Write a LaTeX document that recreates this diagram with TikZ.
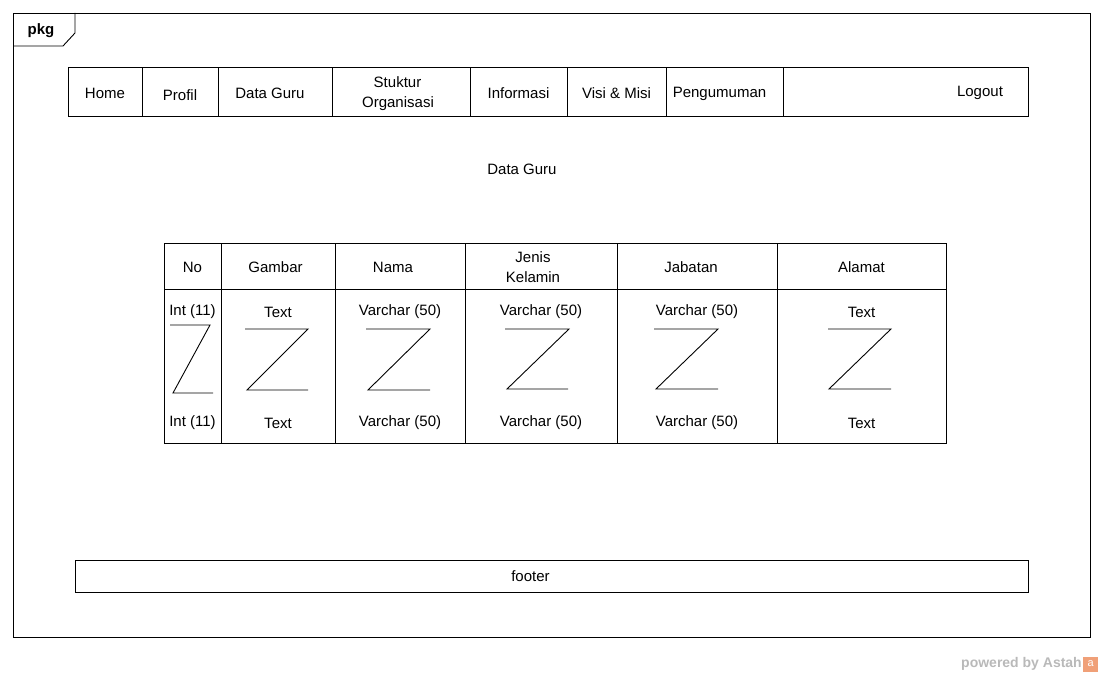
\documentclass[tikz,border=0pt]{standalone}
\usepackage{fontspec}
\setmainfont{Liberation Sans}
\usepackage{xcolor}
\usetikzlibrary{positioning}
\definecolor{astahgray}{RGB}{185,185,185}
\definecolor{astahorange}{RGB}{240,160,120}

\begin{document}
\begin{tikzpicture}[
  x=1pt, y=-1pt,
  font=\fontsize{15}{20}\selectfont,
  cell/.style={rectangle, draw, line width=0.9pt, inner sep=0pt, outer sep=0pt,
    align=center, anchor=north west},
  navcell/.style={cell, minimum height=49, text height=15pt},
  headcell/.style={cell, minimum height=46, text height=14pt},
  bodycell/.style={cell, minimum height=154},
  zline/.style={line width=0.9pt}
]
  \useasboundingbox (0,0) rectangle (1104,677);

  % package frame
  \node[cell, minimum width=1077, minimum height=624] (frame) at (13,13) {};
  \draw[line width=0.9pt] (13,46) -- (63,46) -- (75,33) -- (75,13);
  \node[font=\bfseries\fontsize{15}{15}\selectfont] (pkg) at (41,31) {pkg};

  % menu bar
  \node[navcell, minimum width=74] (home) at (68,67) {Home};
  \node[navcell, minimum width=76, text height=19pt, right=0pt of home] (profil) {Profil};
  \node[navcell, minimum width=114, right=0pt of profil] (dataguru) {Data Guru\hspace*{10pt}};
  \node[navcell, minimum width=138, text height=36pt, right=0pt of dataguru] (struktur) {Stuktur\hspace*{7pt}\\Organisasi\hspace*{6pt}};
  \node[navcell, minimum width=97, right=0pt of struktur] (info) {Informasi};
  \node[navcell, minimum width=99, right=0pt of info] (visi) {Visi \& Misi};
  \node[navcell, minimum width=117, right=0pt of visi] (umum) {Pengumuman\hspace*{10pt}};
  \node[navcell, minimum width=245, right=0pt of umum] (navend) {};
  \node (logout) at ([xshift=-48,yshift=-1]navend.east) {Logout};

  \node (title) at (522,169) {Data Guru};

  % table header
  \node[headcell, minimum width=57] (hno) at (164,243) {No};
  \node[headcell, minimum width=114, right=0pt of hno] (hgam) {Gambar\hspace*{5pt}};
  \node[headcell, minimum width=130, right=0pt of hgam] (hnama) {Nama\hspace*{14pt}};
  \node[headcell, minimum width=152, text height=34pt, right=0pt of hnama] (hjk) {Jenis\hspace*{16pt}\\Kelamin\hspace*{16pt}};
  \node[headcell, minimum width=160, right=0pt of hjk] (hjab) {Jabatan\hspace*{12pt}};
  \node[headcell, minimum width=169, right=0pt of hjab] (halamat) {Alamat};

  % table body
  \node[bodycell, minimum width=57, below=0pt of hno] (bno) {};
  \node[bodycell, minimum width=114, below=0pt of hgam] (bgam) {};
  \node[bodycell, minimum width=130, below=0pt of hnama] (bnama) {};
  \node[bodycell, minimum width=152, below=0pt of hjk] (bjk) {};
  \node[bodycell, minimum width=160, below=0pt of hjab] (bjab) {};
  \node[bodycell, minimum width=169, below=0pt of halamat] (balamat) {};

  \foreach \c/\t/\b in {no/Int (11)/Int (11), gam/Text/Text,
      nama/Varchar (50)/Varchar (50), jk/Varchar (50)/Varchar (50),
      jab/Varchar (50)/Varchar (50), alamat/Text/Text} {
    \node (t\c) at ([yshift=-23]b\c.north) {\t};
    \node (u\c) at ([yshift=20]b\c.south) {\b};
  }

  % Z marks
  \foreach \a/\b/\c/\d/\p/\q in {170/210/173/213/325/393, 245/308/247/308/329/390,
      366/430/368/430/329/390, 505/569/507/568/329/389,
      654/718/656/718/329/389, 828/891/829/891/329/389}
    \draw[zline] (\a,\p) -- (\b,\p) -- (\c,\q) -- (\d,\q);

  % footer
  \node[cell, minimum width=953, minimum height=32] (footer) at (75,560) {};
  \node (footertext) at ([xshift=-21]footer.center) {footer};

  % watermark
  \node[font=\bfseries\fontsize{14}{14}\selectfont, text=astahgray, anchor=east,
    inner sep=0pt] (powered) at (1082,664) {powered by Astah};
  \node[fill=astahorange, minimum size=15, inner sep=0pt, text=white,
    font=\fontsize{11}{11}\selectfont, right=1pt of powered] (logo) {a};
\end{tikzpicture}
\end{document}
